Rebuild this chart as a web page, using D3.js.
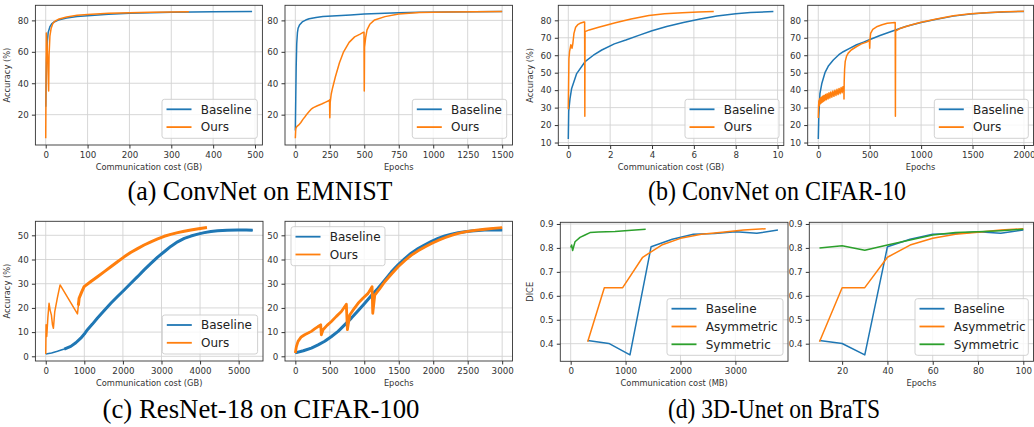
<!DOCTYPE html>
<html><head><meta charset="utf-8">
<script src="https://cdn.jsdelivr.net/npm/d3@7"></script>
<style>
body{margin:0;background:#fff;}
svg{display:block;}
</style></head><body>
<svg id="c" width="1034" height="427"></svg>
<script>
// ---------------- DATA ----------------
// (a) ConvNet on EMNIST
const aCostBaseline = [[0,25],[1,40],[2,55],[4,67],[6,72.5],[10,76],[15,78],[20,79],[30,80.2],[50,81.5],[75,82.4],[100,83],[150,83.9],[200,84.5],[250,84.9],[300,85.2],[400,85.5],[493,85.6]];
const aCostOurs = [[0,5],[0.5,30],[1.5,72],[3,66],[5,52],[7,35],[8,58],[10,70],[13,75],[17,78],[22,79.5],[30,80.7],[50,82.2],[75,83.2],[100,83.8],[150,84.5],[200,84.9],[250,85.2],[300,85.4],[342,85.5]];
const aEpochBaseline = [[0,10],[3,30],[6,50],[10,65],[15,72],[20,75],[30,77],[50,79],[75,80.2],[100,81],[150,81.8],[200,82.4],[300,83],[400,83.5],[500,84],[600,84.4],[750,84.9],[900,85.2],[1100,85.4],[1300,85.5],[1500,85.6]];
const aEpochOurs = [[0,5],[3,11],[10,12.4],[25,13.5],[40,15],[55,17],[70,18.7],[85,20.5],[100,22],[115,23.5],[131,24.5],[160,25.7],[191,26.8],[220,28],[245,29],[248,29.5],[250,18],[253,28],[260,33],[270,37],[290,44],[320,53],[350,60],[390,66],[430,69.5],[470,71.3],[495,72.5],[498,72.5],[500,35],[502,63],[510,69],[520,74],[540,77.5],[575,80.3],[650,82.4],[750,84],[900,85],[1100,85.4],[1300,85.5],[1500,85.6]];
// (b) ConvNet on CIFAR-10
const bCostBaseline = [[0,12],[0.02,28],[0.08,35],[0.16,41],[0.4,49.5],[0.8,56.3],[1.2,60],[1.6,63],[2.2,66.5],[2.75,68.7],[3.4,71.5],[4,74],[4.7,76.5],[5.5,78.8],[6.3,80.8],[7.1,82.5],[8,83.8],[8.7,84.5],[9.8,85]];
const bCostOurs = [[0,29],[0.03,58],[0.06,62],[0.12,66],[0.18,64],[0.22,67],[0.27,72.5],[0.35,76],[0.45,77.5],[0.56,78.3],[0.75,79],[0.78,79],[0.79,25],[0.8,73.5],[1.0,74.5],[1.45,76],[2.25,78.6],[3,80.8],[3.85,82.8],[4.6,83.8],[5.45,84.3],[6.2,84.7],[6.95,85]];
const bEpochBaseline = [[0,12],[5,25],[16,38],[35,44],[65,50],[100,54],[146,57.3],[200,60.3],[243,62],[300,63.8],[373,66],[440,67.5],[503,69],[600,71.3],[730,74],[850,76.5],[989,78.6],[1150,80.6],[1313,82.4],[1480,83.6],[1637,84.3],[1800,84.8],[2000,85.1]];
const bEpochOurs = [[0,24],[3,31],[6,34],[9,31],[12,35],[15,32],[20,35.5],[25,32.5],[30,36],[36,33],[42,36.5],[48,33.5],[55,37],[62,34],[70,37.5],[78,34.5],[86,38],[95,35],[104,38.5],[113,35.5],[122,39],[132,36],[142,39.5],[152,36.5],[162,40],[172,37],[182,40.5],[192,37.5],[202,41],[212,38],[222,41.5],[232,38.5],[240,42],[246,39.5],[249,41],[250,35],[252,45],[256,52],[262,56.5],[275,59.5],[291,61.2],[320,63],[373,65],[420,66.5],[470,67.5],[497,68.5],[500,64],[503,69],[509,72.5],[530,74.8],[574,76.5],[620,77.5],[671,78.3],[745,78.8],[748,78.8],[750,25],[752,73.8],[800,75.5],[900,77.3],[1000,78.9],[1150,80.8],[1313,82.6],[1480,83.8],[1637,84.4],[1800,84.9],[2000,85.2]];
// (c) ResNet-18 on CIFAR-100
const cCostBaseline = [[0,1],[150,1.4],[303,2.1],[480,3],[649,4.1],[780,5.6],[908,7.5],[1000,9.2],[1081,11],[1210,13.3],[1341,15.8],[1510,18.8],[1687,21.9],[1860,24.7],[2033,27.4],[2200,30.1],[2379,32.9],[2550,35.7],[2725,38.4],[2900,41],[3071,43.2],[3240,45.4],[3417,47.3],[3590,48.7],[3763,49.7],[3940,50.5],[4109,51.1],[4280,51.6],[4455,51.9],[4700,52.1],[4974,52.2],[5200,52.2],[5363,52.1]];
const cCostOurs = [[0,1],[9,13],[26,8.2],[55,16],[86,21.9],[115,19],[147,17],[175,13],[199,11.6],[234,18.5],[300,24],[372,29.5],[822,17.5],[845,21],[865,24],[930,26.5],[995,28.8],[1170,30.9],[1341,32.9],[1510,34.9],[1687,37],[1860,39.1],[2033,41.1],[2200,42.9],[2379,44.5],[2550,46],[2725,47.3],[2900,48.5],[3071,49.6],[3240,50.4],[3417,51.1],[3590,51.7],[3763,52.2],[3960,52.7],[4178,53.2]];
const cEpochBaseline = [[0,1.4],[116,2.3],[232,3.4],[330,4.7],[426,6.2],[520,8.1],[620,10.3],[715,13],[813,15.8],[910,18.8],[1007,21.9],[1100,25],[1200,28.1],[1300,31.6],[1394,34.9],[1490,37.8],[1588,40.4],[1680,42.6],[1781,44.5],[1880,46.1],[1975,47.5],[2070,48.7],[2168,49.7],[2265,50.5],[2362,51.1],[2460,51.5],[2556,51.8],[2749,52.2],[3000,52.2]];
const cEpochOurs = [[0,1.4],[15,4],[39,6.2],[85,8],[135,8.9],[185,9.6],[232,10.3],[280,11.3],[329,12.3],[368,13],[377,8.9],[402,11],[460,12.8],[523,14.4],[595,16.5],[668,18.5],[740,21.5],[755,11],[789,17.1],[850,19.6],[910,21.9],[980,24],[1055,26],[1113,28.8],[1123,17.8],[1152,25.3],[1225,28],[1297,30.8],[1395,34],[1491,37],[1590,39.6],[1684,41.8],[1780,43.6],[1878,45.2],[1975,46.6],[2071,47.9],[2168,49],[2265,50],[2362,50.8],[2459,51.4],[2600,52],[2749,52.5],[2870,52.9],[3000,53.2]];
// (d) 3D-Unet on BraTS
const dEpochs = [10,20,30,40,50,60,70,80,90,100];
const dBaseline = [0.413,0.401,0.353,0.805,0.836,0.857,0.860,0.868,0.861,0.875];
const dAsymmetric = [0.408,0.634,0.634,0.761,0.812,0.840,0.857,0.865,0.875,0.880];
const dSymmetric = [0.800,0.809,0.790,0.812,0.833,0.854,0.864,0.868,0.872,0.878];
const dCostBaseline = [310,695,1080,1465,1850,2235,2620,3005,3390,3775];
const dCostAsymmetric = [310,613,947,1311,1657,2000,2380,2760,3150,3551];
const dCostSymmetricPts = [[0,0.802],[18,0.812],[36,0.789],[79,0.826],[170,0.844],[261,0.854],[352,0.864],[504,0.866],[807,0.869],[1111,0.874],[1366,0.878]];
// tick labels
const aCostTicks = [0,100,200,300,400,500];
const aEpochTicks = [0,250,500,750,1000,1250,1500];
const aAccTicks = [20,40,60,80];
const bCostTicks = [0,2,4,6,8,10];
const bEpochTicks = [0,500,1000,1500,2000];
const bAccTicks = [10,20,30,40,50,60,70,80];
const cCostTicks = [0,1000,2000,3000,4000,5000];
const cEpochTicks = [0,500,1000,1500,2000,2500,3000];
const cAccTicks = [0,10,20,30,40,50];
const dCostTicks = [0,1000,2000,3000];
const dEpochTicks = [20,40,60,80,100];
const dDiceTicks = [0.4,0.5,0.6,0.7,0.8,0.9];
const captions = ["(a) ConvNet on EMNIST","(b) ConvNet on CIFAR-10","(c) ResNet-18 on CIFAR-100","(d) 3D-Unet on BraTS"];

// ---------------- DRAW ----------------
const svg = d3.select("#c");
const COL = {blue:"#1f77b4", orange:"#ff7f0e", green:"#2ca02c"};
const FONT = "'DejaVu Sans', sans-serif";
const zip = (xs, ys) => xs.map((v,i)=>[v, ys[i]]);

let clipN = 0;
function drawPanel(p){
  const x = d3.scaleLinear().domain(p.xd).range([p.left,p.right]);
  const y = d3.scaleLinear().domain(p.yd).range([p.bottom,p.top]);
  const g = svg.append("g");
  const id = "clip" + (clipN++);
  svg.append("clipPath").attr("id",id).append("rect")
    .attr("x",p.left).attr("y",p.top).attr("width",p.right-p.left).attr("height",p.bottom-p.top);
  g.append("g").selectAll("line").data(p.xt).join("line")
    .attr("x1",d=>x(d)).attr("x2",d=>x(d)).attr("y1",p.top).attr("y2",p.bottom)
    .attr("stroke","#d3d3d3").attr("stroke-width",0.9);
  g.append("g").selectAll("line").data(p.yt).join("line")
    .attr("y1",d=>y(d)).attr("y2",d=>y(d)).attr("x1",p.left).attr("x2",p.right)
    .attr("stroke","#d3d3d3").attr("stroke-width",0.9);
  const line = d3.line().x(d=>x(d[0])).y(d=>y(d[1]));
  const sg = g.append("g").attr("clip-path",`url(#${id})`);
  p.series.forEach(s=>{
    sg.append("path").attr("d",line(s.data)).attr("fill","none")
      .attr("stroke",s.color).attr("stroke-width",1.5).attr("stroke-linejoin","round");
    if(s.bandFrom!==undefined){
      const seg = s.data.filter(d=>d[0]>=s.bandFrom);
      sg.append("path").attr("d",line(seg)).attr("fill","none")
        .attr("stroke",s.color).attr("stroke-width",s.bandW||3.0).attr("stroke-linejoin","round");
    }
  });
  g.append("rect").attr("x",p.left).attr("y",p.top).attr("width",p.right-p.left).attr("height",p.bottom-p.top)
    .attr("fill","none").attr("stroke","#333").attr("stroke-width",0.9);
  const xa = d3.axisBottom(x).tickValues(p.xt).tickSize(3.5).tickPadding(3.2).tickFormat(p.xf||d3.format("d"));
  const gx = g.append("g").attr("transform",`translate(0,${p.bottom})`).call(xa)
    .attr("font-family",FONT).attr("font-size",8.7);
  gx.select(".domain").remove();
  gx.selectAll("line").attr("stroke","#333");
  gx.selectAll("text").attr("fill","#333");
  const ya = d3.axisLeft(y).tickValues(p.yt).tickSize(3.5).tickPadding(3.2).tickFormat(p.yf||d3.format("d"));
  const gy = g.append("g").attr("transform",`translate(${p.left},0)`).call(ya)
    .attr("font-family",FONT).attr("font-size",8.7);
  gy.select(".domain").remove();
  gy.selectAll("line").attr("stroke","#333");
  gy.selectAll("text").attr("fill","#333");
  g.append("text").attr("x",(p.left+p.right)/2).attr("y",p.bottom+24.7)
    .attr("text-anchor","middle").attr("font-family",FONT).attr("font-size",8.3).attr("fill","#333").text(p.xlabel);
  if(p.ylabel){
    const cy = (p.top+p.bottom)/2;
    g.append("text").attr("transform",`translate(${p.ylx + 3},${cy}) rotate(-90)`)
      .attr("text-anchor","middle").attr("font-family",FONT).attr("font-size",8.3).attr("fill","#333").text(p.ylabel);
  }
  const L = p.legend;
  g.append("rect").attr("x",L.x).attr("y",L.y).attr("width",L.w).attr("height",L.h).attr("rx",2.5)
    .attr("fill","#fff").attr("fill-opacity",0.8).attr("stroke","#cccccc").attr("stroke-width",0.9);
  p.series.forEach((s,i)=>{
    const cy = L.y + 10 + i*17.8;
    g.append("line").attr("x1",L.x+4.5).attr("x2",L.x+29.5).attr("y1",cy).attr("y2",cy)
      .attr("stroke",s.color).attr("stroke-width",1.8);
    g.append("text").attr("x",L.x+38.7).attr("y",cy+4.3).attr("font-family",FONT).attr("font-size",12)
      .attr("fill","#222").text(s.name);
  });
}

const panels = [
  {left:35.4,right:262.4,top:5.3,bottom:145,xd:[-24.65,517.65],yd:[0.7,89.6],xt:aCostTicks,yt:aAccTicks,
   xlabel:"Communication cost (GB)",ylabel:"Accuracy (%)",ylx:7,
   series:[{name:"Baseline",color:COL.blue,data:aCostBaseline},{name:"Ours",color:COL.orange,data:aCostOurs}],
   legend:{x:162,y:99.3,w:95.3,h:39}},
  {left:285,right:512.5,top:5.3,bottom:145,xd:[-75,1575],yd:[0.7,89.6],xt:aEpochTicks,yt:aAccTicks,
   xlabel:"Epochs",
   series:[{name:"Baseline",color:COL.blue,data:aEpochBaseline},{name:"Ours",color:COL.orange,data:aEpochOurs}],
   legend:{x:412.3,y:99.3,w:94.4,h:39}},
  {left:558.3,right:783.8,top:5.3,bottom:145.5,xd:[-0.478,10.297],yd:[8.3,88.6],xt:bCostTicks,yt:bAccTicks,
   xlabel:"Communication cost (GB)",ylabel:"Accuracy (%)",ylx:530.3,
   series:[{name:"Baseline",color:COL.blue,data:bCostBaseline},{name:"Ours",color:COL.orange,data:bCostOurs}],
   legend:{x:685,y:99.3,w:94,h:39}},
  {left:807.7,right:1033.5,top:5.3,bottom:145.5,xd:[-103,2093],yd:[8.3,88.6],xt:bEpochTicks,yt:bAccTicks,
   xlabel:"Epochs",
   series:[{name:"Baseline",color:COL.blue,data:bEpochBaseline},{name:"Ours",color:COL.orange,data:bEpochOurs}],
   legend:{x:934.3,y:99.3,w:94,h:39}},
  {left:35.4,right:263,top:221.3,bottom:361,xd:[-268,5631],yd:[-1.94,55.79],xt:cCostTicks,yt:cAccTicks,
   xlabel:"Communication cost (GB)",ylabel:"Accuracy (%)",ylx:7,
   series:[{name:"Baseline",color:COL.blue,data:cCostBaseline,bandFrom:400},{name:"Ours",color:COL.orange,data:cCostOurs,bandFrom:830}],
   legend:{x:162.3,y:315,w:95.3,h:39}},
  {left:285,right:512.5,top:221.3,bottom:361,xd:[-150,3150],yd:[-1.94,55.79],xt:cEpochTicks,yt:cAccTicks,
   xlabel:"Epochs",
   series:[{name:"Baseline",color:COL.blue,data:cEpochBaseline,bandFrom:0},{name:"Ours",color:COL.orange,data:cEpochOurs,bandFrom:0,bandW:2.8}],
   legend:{x:291,y:226.7,w:94,h:39}},
  {left:560.3,right:788,top:222.3,bottom:361.3,xd:[-189,3958],yd:[0.3265,0.907],xt:dCostTicks,yt:dDiceTicks,yf:d3.format(".1f"),
   xlabel:"Communication cost (MB)",ylabel:"DICE",ylx:530.3,
   series:[{name:"Baseline",color:COL.blue,data:zip(dCostBaseline,dBaseline)},
           {name:"Asymmetric",color:COL.orange,data:zip(dCostAsymmetric,dAsymmetric)},
           {name:"Symmetric",color:COL.green,data:dCostSymmetricPts}],
   legend:{x:667,y:298.7,w:116,h:56.6}},
  {left:809.3,right:1033.5,top:222.3,bottom:361.3,xd:[5.5,104.5],yd:[0.3265,0.907],xt:dEpochTicks,yt:dDiceTicks,yf:d3.format(".1f"),
   xlabel:"Epochs",
   series:[{name:"Baseline",color:COL.blue,data:zip(dEpochs,dBaseline)},
           {name:"Asymmetric",color:COL.orange,data:zip(dEpochs,dAsymmetric)},
           {name:"Symmetric",color:COL.green,data:zip(dEpochs,dSymmetric)}],
   legend:{x:915,y:298.7,w:113.3,h:56.6}}
];
panels.forEach(drawPanel);

// captions (condensed Times-like, as in the reference)
const capPos = [[260,200,265],[777,200,258],[261,418,317],[774,418,212]];
svg.selectAll("text.cap").data(captions).join("text").attr("class","cap")
  .attr("x",(d,i)=>capPos[i][0]).attr("y",(d,i)=>capPos[i][1])
  .attr("text-anchor","middle").attr("font-family","'Liberation Serif', 'Times New Roman', serif")
  .attr("font-size",28).attr("fill","#000")
  .attr("textLength",(d,i)=>capPos[i][2]).attr("lengthAdjust","spacingAndGlyphs")
  .text(d=>d);
</script>
</body></html>
